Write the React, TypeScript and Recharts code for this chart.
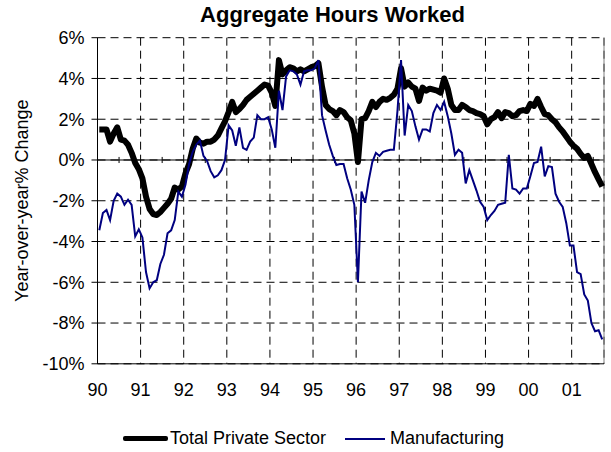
import { LineChart, Line, XAxis, YAxis, CartesianGrid, ReferenceLine, Legend, Label } from "recharts";

// year labels on the category axis, one every 12 months
const yearLabels = ["90", "91", "92", "93", "94", "95", "96", "97", "98", "99", "00", "01"];

// monthly yoy % change, Jan 1990 .. Sep 2001
const totalPrivate = [
  1.5, 1.5, 1.5, 0.9, 1.3, 1.6, 1.0, 0.95, 0.75, 0.35, -0.15, -0.45, // 90
  -0.9, -1.8, -2.4, -2.65, -2.7, -2.55, -2.35, -2.15, -1.9, -1.35, -1.45, -1.3, // 91
  -0.65, -0.2, 0.55, 1.05, 0.85, 0.8, 0.9, 0.9, 1.0, 1.2, 1.55, 1.9, // 92
  2.35, 2.85, 2.35, 2.5, 2.7, 2.95, 3.1, 3.25, 3.4, 3.55, 3.7, 3.65, // 93
  3.3, 2.65, 4.9, 4.2, 4.4, 4.55, 4.5, 4.35, 4.45, 4.35, 4.45, 4.55, // 94
  4.6, 4.75, 3.6, 2.7, 2.5, 2.4, 2.2, 2.45, 2.35, 2.1, 1.95, 1.3, // 95
  -0.1, 2.0, 2.05, 2.4, 2.85, 2.6, 2.85, 3.0, 2.95, 3.05, 3.2, 3.5, // 96
  4.5, 3.6, 3.8, 3.6, 3.5, 2.9, 3.55, 3.4, 3.5, 3.45, 3.4, 3.3, // 97
  4.0, 3.5, 2.7, 2.45, 2.45, 2.7, 2.6, 2.45, 2.4, 2.3, 2.25, 2.15, // 98
  1.75, 2.0, 2.1, 2.35, 2.05, 2.35, 2.3, 2.15, 2.2, 2.4, 2.45, 2.4, // 99
  2.75, 2.65, 3.0, 2.6, 2.25, 2.2, 2.0, 1.85, 1.6, 1.4, 1.15, 0.9, // 00
  0.7, 0.55, 0.3, 0.1, 0.2, -0.2, -0.6, -0.95, -1.3, // 01
];

const manufacturing = [
  -3.45, -2.6, -2.45, -2.95, -2.0, -1.65, -1.8, -2.2, -1.95, -2.2, -3.75, -3.4, // 90
  -3.8, -5.5, -6.3, -6.0, -5.9, -5.1, -4.65, -3.6, -3.45, -2.95, -1.55, -1.8, // 91
  -1.2, -0.2, 0.4, 0.75, 0.95, 0.2, -0.05, -0.55, -0.85, -0.75, -0.5, 0.0, // 92
  1.7, 1.45, 0.7, 1.6, 0.6, 0.5, 0.9, 1.1, 2.2, 2.0, 2.0, 2.1, // 93
  1.5, 0.6, 3.4, 2.45, 4.1, 4.4, 4.35, 4.2, 3.7, 4.35, 4.4, 4.4, // 94
  4.5, 4.9, 2.2, 1.45, 0.75, 0.2, -0.25, -0.2, -0.2, -0.9, -1.45, -2.2, // 95
  -6.0, -1.55, -2.1, -1.0, -0.1, 0.35, 0.2, 0.4, 0.45, 0.5, 0.5, 2.4, // 96
  4.9, 1.2, 2.7, 2.4, 1.65, 1.0, 1.5, 1.5, 1.4, 2.3, 2.7, 2.45, // 97
  2.85, 2.15, 1.3, 0.25, 0.5, 0.35, -1.15, -0.5, -1.0, -1.5, -2.05, -2.3, // 98
  -2.95, -2.7, -2.5, -2.2, -2.15, -2.1, 0.25, -1.4, -1.45, -1.65, -1.4, -1.4, // 99
  -0.8, -0.15, -0.1, 0.65, -0.8, -0.3, -0.35, -1.65, -2.05, -2.3, -3.1, -4.2, // 00
  -4.2, -5.5, -5.6, -6.6, -6.9, -8.0, -8.4, -8.35, -8.8, // 01
];

const yTicks = [-10, -8, -6, -4, -2, 0, 2, 4, 6];

// points sit in the middle of each month slot, like an excel category axis
const data = totalPrivate.map((total, i) => ({ month: i + 0.5, total, mfg: manufacturing[i] }));
const yearTicks = yearLabels.map((_, i) => i * 12);
const midYearTicks = yearLabels.map((_, i) => i * 12 + 6);

function YTitle({ viewBox }: any) {
  const x = viewBox.x + 28;
  const cy = viewBox.y + viewBox.height / 2;
  return (
    <text x={x} y={cy} transform={`rotate(-90 ${x} ${cy})`} textAnchor="middle" fontSize={18} fill="#000">
      Year-over-year% Change
    </text>
  );
}

function LegendBox() {
  return (
    <div style={{ position: "relative", width: 611, height: 20, fontSize: 18, lineHeight: "20px", color: "#000" }}>
      <span style={{ position: "absolute", left: 123, top: 8, width: 45, height: 5, background: "#000", borderRadius: 2 }} />
      <span style={{ position: "absolute", left: 170, top: 0, whiteSpace: "nowrap" }}>Total Private Sector</span>
      <span style={{ position: "absolute", left: 345, top: 9.5, width: 40, height: 2, background: "#000080" }} />
      <span style={{ position: "absolute", left: 390, top: 0, whiteSpace: "nowrap" }}>Manufacturing</span>
    </div>
  );
}

export default function App() {
  return (
    <div
      style={{
        position: "absolute",
        left: 0,
        top: 0,
        width: 611,
        height: 452,
        background: "#fff",
        fontFamily: '"Liberation Sans", Arial, sans-serif',
      }}
    >
      <div
        style={{
          position: "absolute",
          top: 4.4,
          left: 0,
          width: 665,
          textAlign: "center",
          fontSize: 22,
          fontWeight: "bold",
          lineHeight: "22px",
        }}
      >
        Aggregate Hours Worked
      </div>
      <LineChart width={611} height={452} data={data} margin={{ top: 37.7, right: 7, bottom: 58.2, left: 0 }}>
        <CartesianGrid stroke="#000" strokeDasharray="8 5" />
        <XAxis
          type="number"
          dataKey="month"
          domain={[0, 141]}
          ticks={yearTicks}
          interval={0}
          tickFormatter={(v) => yearLabels[v / 12]}
          tickLine={false}
          tickMargin={13}
          axisLine={{ stroke: "#000" }}
          tick={{ fill: "#000", fontSize: 18 }}
          height={30}
        />
        <YAxis
          type="number"
          domain={[-10, 6]}
          ticks={yTicks}
          interval={0}
          tickFormatter={(v) => `${v}%`}
          width={97.5}
          tickSize={6}
          tickMargin={7}
          tickLine={{ stroke: "#000" }}
          axisLine={{ stroke: "#000" }}
          tick={{ fill: "#000", fontSize: 18 }}
        >
          <Label content={YTitle} />
        </YAxis>
        <ReferenceLine y={0} stroke="#000" />
        {midYearTicks.map((t) => (
          <ReferenceLine key={t} segment={[{ x: t, y: -0.15 }, { x: t, y: 0.15 }]} stroke="#000" />
        ))}
        <ReferenceLine x={141} stroke="#808080" />
        <Line
          dataKey="total"
          name="Total Private Sector"
          stroke="#000"
          strokeWidth={6}
          strokeLinejoin="round"
          dot={false}
          isAnimationActive={false}
        />
        <Line
          dataKey="mfg"
          name="Manufacturing"
          stroke="#000080"
          strokeWidth={2}
          dot={false}
          isAnimationActive={false}
        />
        <Legend
          content={LegendBox}
          verticalAlign="middle"
          align="center"
          wrapperStyle={{ top: 428, left: 0, width: 611 }}
        />
      </LineChart>
    </div>
  );
}
